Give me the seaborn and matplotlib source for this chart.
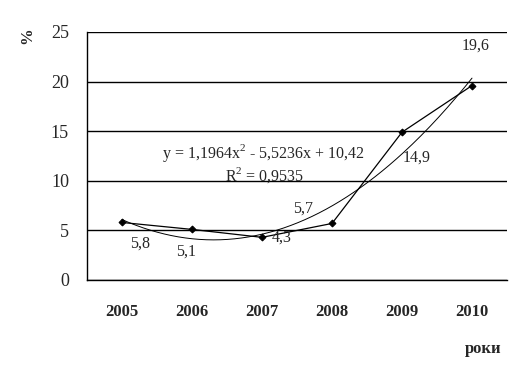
import numpy as np
import pandas as pd
import matplotlib
matplotlib.use("Agg")
import matplotlib.pyplot as plt
import seaborn as sns

years = ["2005", "2006", "2007", "2008", "2009", "2010"]
values = [5.8, 5.1, 4.3, 5.7, 14.9, 19.6]
value_labels = ["5,8", "5,1", "4,3", "5,7", "14,9", "19,6"]
# label offsets in pixels (dx right, dy down)
label_offsets = [(18, 21), (-6, 22), (20, 0), (-29, -15), (15, 25), (4, -40)]
equation = "y = 1,1964x$^2$ - 5,5236x + 10,42"
r2_text = "R$^2$ = 0,9535"

sns.set_style("white")
plt.rcParams["font.family"] = ["Liberation Serif", "DejaVu Serif"]
plt.rcParams["mathtext.fontset"] = "custom"
plt.rcParams["mathtext.rm"] = "Liberation Serif"

df = pd.DataFrame({"x": np.arange(1, len(years) + 1), "value": values})

fig = plt.figure(figsize=(5.22, 3.78), dpi=100)
ax = fig.add_axes([87 / 522, 1 - 280 / 378, 420 / 522, 248 / 378])

sns.lineplot(data=df, x="x", y="value", ax=ax, color="black", linewidth=0.9,
             marker="D", markersize=3.5, markeredgecolor="black")

# polynomial trendline (order 2) from the data
coef = np.polyfit(df["x"], df["value"], 2)
xs = np.linspace(1, len(years), 200)
ax.plot(xs, np.polyval(coef, xs), color="black", linewidth=0.7)

ax.set_xlim(0.5, len(years) + 0.5)
ax.set_ylim(0, 25)
ax.set_yticks(np.arange(0, 26, 5))
ax.yaxis.grid(True, color="black", linewidth=1)
ax.set_axisbelow(True)

ax.set_xticks(np.arange(0.5, len(years) + 1, 1))
ax.set_xticklabels([])
ax.set_xticks(df["x"], minor=True)
ax.set_xticklabels(years, minor=True, fontsize=12, fontweight="bold")
ax.tick_params(axis="x", which="major", direction="out", length=4, width=1, color="black")
ax.tick_params(axis="x", which="minor", length=0, pad=17)
ax.tick_params(axis="y", direction="out", length=5, width=1, color="black",
               labelsize=13, pad=8)
ax.set_xlabel("")
ax.set_ylabel("")

for s in ["top", "right"]:
    ax.spines[s].set_visible(False)
for s in ["left", "bottom"]:
    ax.spines[s].set_color("black")
    ax.spines[s].set_linewidth(1)

px = 72 / 100
for xi, v, lab, (dx, dy) in zip(df["x"], values, value_labels, label_offsets):
    ax.annotate(lab, (xi, v), xytext=(dx * px, -dy * px), textcoords="offset points",
                ha="center", va="center", fontsize=11.5)

fig.text(263 / 522, 1 - 153 / 378, equation, ha="center", va="center", fontsize=11.5)
fig.text(265 / 522, 1 - 175 / 378, r2_text, ha="center", va="center", fontsize=11.5)

fig.text(27 / 522, 1 - 36 / 378, "%", rotation=90, ha="center", va="center",
         fontsize=12, fontweight="bold")
fig.text(483 / 522, 1 - 349 / 378, "роки", ha="center", va="center",
         fontsize=12, fontweight="bold")

fig.savefig("out.png", dpi=100, facecolor="white")
